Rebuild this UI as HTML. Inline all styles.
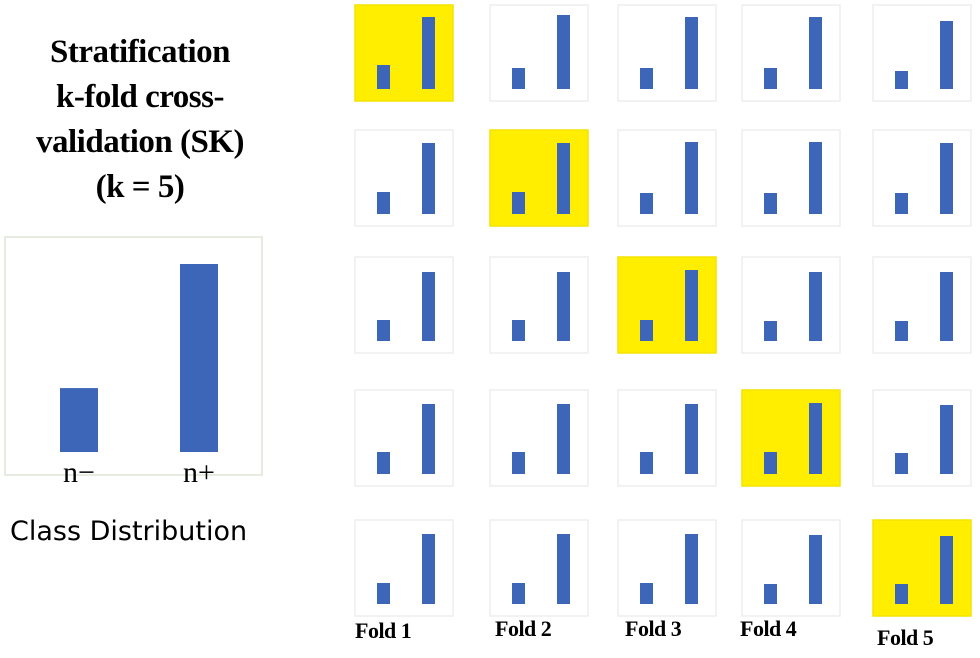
<!DOCTYPE html>
<html><head><meta charset="utf-8"><style>
body{margin:0;width:980px;height:658px;background:#fff;position:relative;overflow:hidden;font-family:"Liberation Serif",serif}
.t{position:absolute;text-align:center;width:280px;left:0;font-size:33px;font-weight:bold;color:#000;letter-spacing:-0.5px}
.fold{position:absolute;font-size:22px;font-weight:bold;font-family:"Liberation Serif",serif;letter-spacing:-0.5px}
</style></head><body>
<div class="t" style="top:34px">Stratification</div>
<div class="t" style="top:79px">k-fold cross-</div>
<div class="t" style="top:124px">validation (SK)</div>
<div class="t" style="top:169px">(k = 5)</div>
<div style="position:absolute;left:10px;top:516px;font-family:'DejaVu Sans',sans-serif;font-size:27px">Class Distribution</div>
<svg id="svg" width="980" height="658" style="position:absolute;left:0;top:0"></svg>
<div class="fold" style="left:355px;top:618px">Fold 1</div>
<div class="fold" style="left:495px;top:616px">Fold 2</div>
<div class="fold" style="left:625px;top:616px">Fold 3</div>
<div class="fold" style="left:740px;top:616px">Fold 4</div>
<div class="fold" style="left:877px;top:625px">Fold 5</div>
<script>
const classLabels=["n−","n+"];
const classCounts=[34,100];
const foldNeg=[[24,21,21,21,18],[22,22,21,21,21],[21,21,21,20,20],[22,22,22,22,21],[21,21,21,20,20]];
const foldPos=[[72,74,72,72,68],[71,71,72,72,71],[69,69,71,69,69],[70,70,70,71,69],[70,70,70,69,68]];
const NS="http://www.w3.org/2000/svg";
const svg=document.getElementById('svg');
function mk(t,a){const e=document.createElementNS(NS,t);for(const k in a)e.setAttribute(k,a[k]);svg.appendChild(e);return e;}
const box=mk('rect',{x:5,y:237,width:257,height:238,fill:'#fff',stroke:'#dde5d8','stroke-width':1.5});


const baseY=452,maxH=188,maxV=100;
const yS=v=>v/maxV*maxH;
const bx=[60,180];
classCounts.forEach((v,i)=>{
 const r=mk('rect',{x:bx[i],y:baseY-yS(v),width:38,height:yS(v),fill:'#3d66b8'});
 
 
 const t=mk('text',{x:bx[i]+19,y:baseY+30,'text-anchor':'middle','font-size':30,'font-family':'Liberation Serif,serif'});
 t.textContent=classLabels[i];
 
 
});
const colX=[355,490,618,742,873],rowY=[5,130,257,390,520];
const cellW=98,cellH=96,cellMax=100,cellScale=100;
for(let r=0;r<5;r++)for(let c=0;c<5;c++){
 const x0=colX[c],y0=rowY[r],hl=r===c;
 const cell=mk('rect',{x:x0,y:y0,width:cellW,height:cellH,fill:hl?'#ffee00':'#fff',stroke:hl?'#f4e400':'#eeeeee','stroke-width':1.5});
 
 
 const b=y0+84;
 const hn=foldNeg[r][c]/cellMax*cellScale, hp=foldPos[r][c]/cellMax*cellScale;
 const n=mk('rect',{x:x0+22,y:b-hn,width:13,height:hn,fill:'#3d66b8'});
 
 
 const p=mk('rect',{x:x0+67,y:b-hp,width:13,height:hp,fill:'#3d66b8'});
 
 
}
</script>
</body></html>
